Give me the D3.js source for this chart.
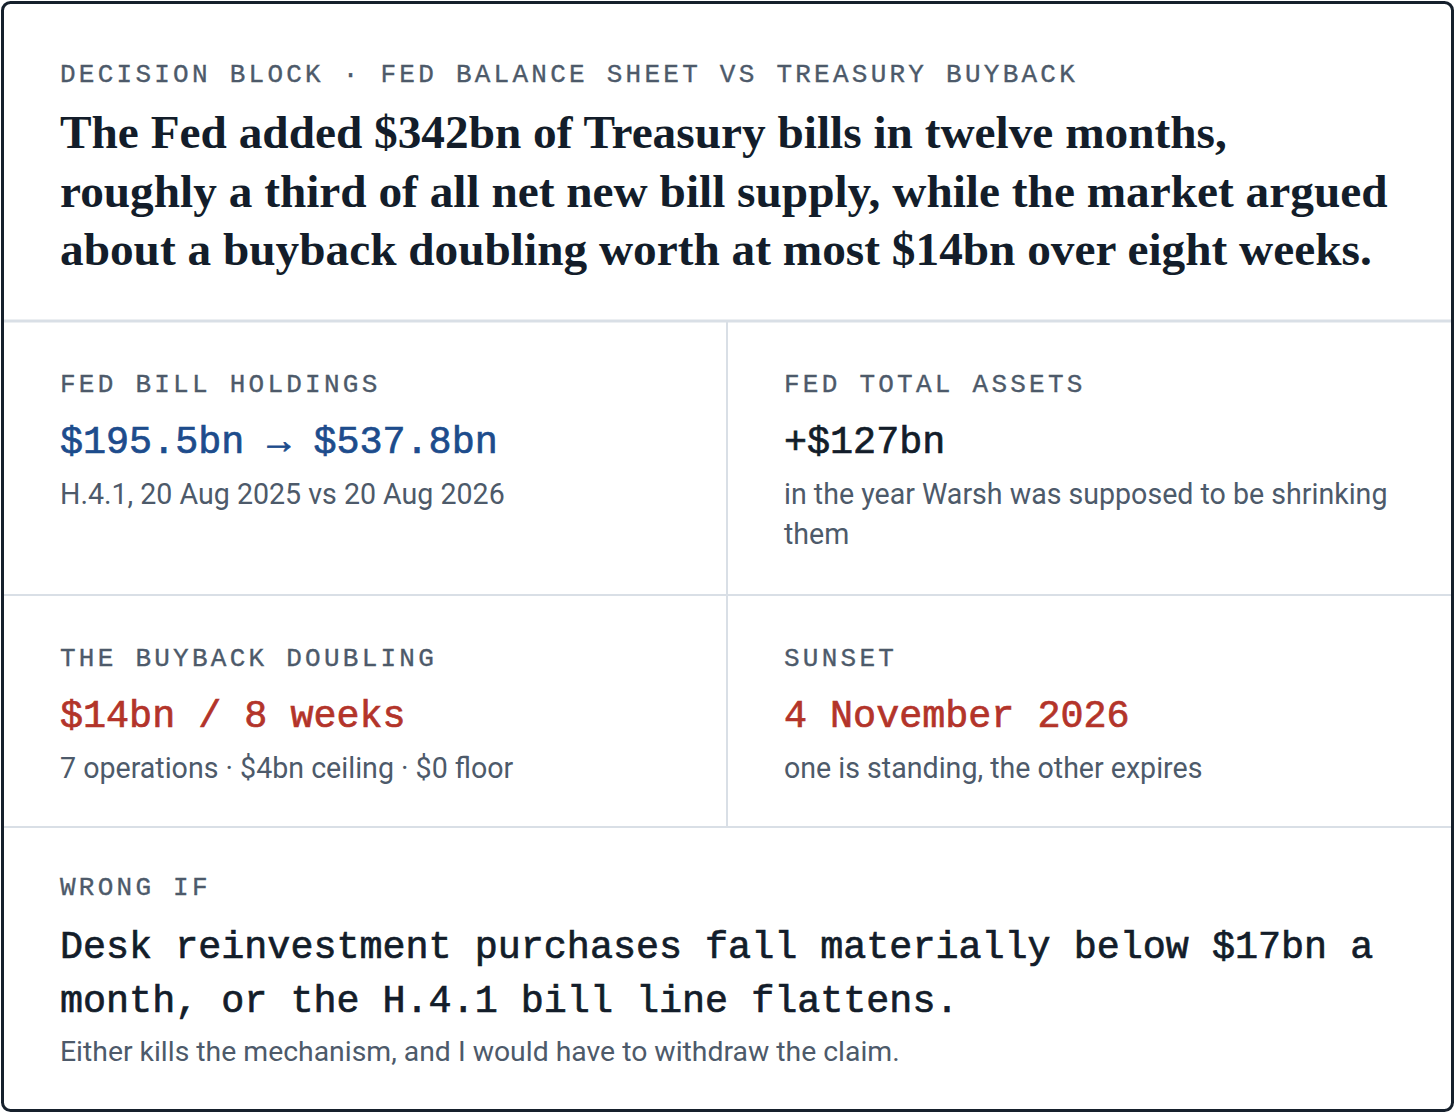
<!DOCTYPE html>
<html>
<head>
<meta charset="utf-8">
<script src="https://cdn.jsdelivr.net/npm/d3@7/dist/d3.min.js"></script>
<style>
  html, body { margin: 0; padding: 0; background: #ffffff; }
  svg { display: block; }
</style>
</head>
<body>
<div id="chart"></div>
<script>
// ---- content ----
const kicker = "DECISION BLOCK · FED BALANCE SHEET VS TREASURY BUYBACK";
const headlineLines = [
  "The Fed added $342bn of Treasury bills in twelve months,",
  "roughly a third of all net new bill supply, while the market argued",
  "about a buyback doubling worth at most $14bn over eight weeks."
];
const cellLabels = ["FED BILL HOLDINGS", "FED TOTAL ASSETS", "THE BUYBACK DOUBLING", "SUNSET"];
const cellValues = ["$195.5bn \u2192 $537.8bn", "+$127bn", "$14bn / 8 weeks", "4 November 2026"];
const cellTones = ["blue", "ink", "red", "red"];
const cellNotes = [
  ["H.4.1, 20 Aug 2025 vs 20 Aug 2026"],
  ["in the year Warsh was supposed to be shrinking", "them"],
  ["7 operations \u00b7 $4bn ceiling \u00b7 $0 floor"],
  ["one is standing, the other expires"]
];
const wrongLabel = "WRONG IF";
const wrongLines = [
  "Desk reinvestment purchases fall materially below $17bn a",
  "month, or the H.4.1 bill line flattens."
];
const wrongNote = "Either kills the mechanism, and I would have to withdraw the claim.";

// ---- style ----
const W = 1456, H = 1116;
const colors = { ink: "#131d2a", muted: "#4d5a6a", blue: "#1d4c8c", red: "#b3342a", rule: "#d9dfe6", frame: "#16202c" };
const MONO = "'Liberation Mono', 'DejaVu Sans Mono', monospace";
const SANS = "Roboto, 'Noto Sans', sans-serif";
const SERIF = "'Liberation Serif', 'DejaVu Serif', serif";

const svg = d3.select("#chart").append("svg").attr("width", W).attr("height", H);

// layout scales
const x = d3.scaleOrdinal().domain(["left", "right"]).range([60, 784]);
const rowY = d3.scaleOrdinal().domain([0, 1, 2]).range([320, 594, 826]);

function fit(sel, target) {
  const node = sel.node();
  const w = node.getComputedTextLength();
  const fs = parseFloat(sel.attr("font-size"));
  return fs * target / w;
}

// frame + rules
svg.append("rect").attr("x", 2.5).attr("y", 2.5).attr("width", W - 6).attr("height", 1108)
  .attr("rx", 8).attr("fill", "#fff").attr("stroke", colors.frame).attr("stroke-width", 3);

svg.append("line").attr("x1", 4).attr("x2", W - 5).attr("y1", 321).attr("y2", 321)
  .attr("stroke", colors.rule).attr("stroke-width", 3);
[594, 826].forEach(y => svg.append("line").attr("x1", 4).attr("x2", W - 5).attr("y1", y + 1).attr("y2", y + 1)
  .attr("stroke", colors.rule).attr("stroke-width", 2));
svg.append("line").attr("x1", 727).attr("x2", 727).attr("y1", 322).attr("y2", 826)
  .attr("stroke", colors.rule).attr("stroke-width", 2);

// label helper
function label(text, xx, y) {
  return svg.append("text").attr("x", xx).attr("y", y).attr("font-family", MONO).attr("font-size", 26)
    .attr("letter-spacing", 3.25).attr("fill", colors.muted)
    .attr("stroke", colors.muted).attr("stroke-width", 0.35).text(text);
}

// kicker
label(kicker, 60, 82);

// headline
const hl = svg.append("g");
const probe = hl.append("text").attr("font-family", SERIF).attr("font-weight", 700).attr("font-size", 44).text(headlineLines[1]);
const hfs = fit(probe, 1328);
probe.remove();
hl.selectAll("text").data(headlineLines).join("text")
  .attr("x", 60).attr("y", (d, i) => 148 + i * 58.5)
  .attr("font-family", SERIF).attr("font-weight", 700).attr("font-size", hfs)
  .attr("fill", colors.ink).text(d => d);

// sans size fit
const sp = svg.append("text").attr("font-family", SANS).attr("font-size", 26).text(cellNotes[0][0]);
const sfs = fit(sp, 445);
sp.remove();

// cells
cellLabels.forEach((lab, i) => {
  const col = i % 2 === 0 ? "left" : "right";
  const r = Math.floor(i / 2);
  const top = rowY(r);
  const xx = x(col);
  label(lab, xx, top + 72);
  svg.append("text").attr("x", xx).attr("y", top + 133)
    .attr("font-family", MONO).attr("font-size", 38.4).attr("fill", colors[cellTones[i]])
    .attr("stroke", colors[cellTones[i]]).attr("stroke-width", 0.7)
    .text(cellValues[i]);
  svg.append("g").selectAll("text").data(cellNotes[i]).join("text")
    .attr("x", xx).attr("y", (d, k) => top + 184 + k * 40)
    .attr("font-family", SANS).attr("font-size", sfs).attr("fill", colors.muted)
    .text(d => d);
});

// wrong if
label(wrongLabel, 60, 895);
svg.append("g").selectAll("text").data(wrongLines).join("text")
  .attr("x", 60).attr("y", (d, i) => 958 + i * 54)
  .attr("font-family", MONO).attr("font-size", 38.4).attr("fill", colors.ink)
  .attr("stroke", colors.ink).attr("stroke-width", 0.7).text(d => d);
const wn = svg.append("text").attr("x", 60).attr("y", 1061)
  .attr("font-family", SANS).attr("font-size", 24).attr("fill", colors.muted).text(wrongNote);
wn.attr("font-size", fit(wn, 840));
</script>
</body>
</html>
